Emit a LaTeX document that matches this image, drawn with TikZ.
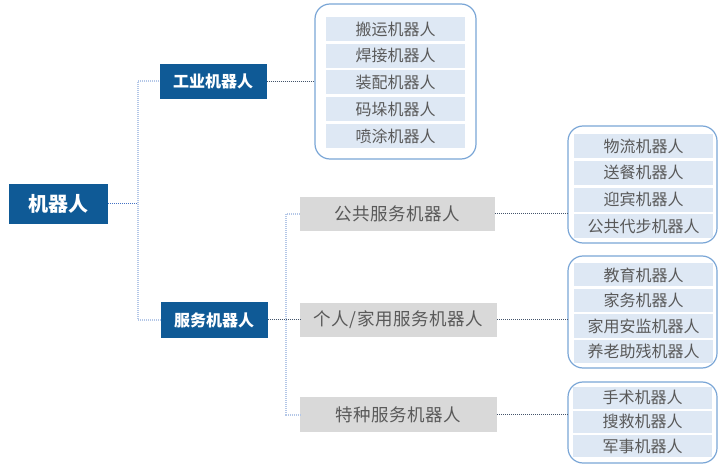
\documentclass[tikz,border=0pt]{standalone}
\usepackage{fontspec}
\setmainfont{Noto Sans CJK SC}
\usepackage{xcolor}
\definecolor{robot-blue}{HTML}{0F5A96}
\definecolor{sub-gray}{HTML}{D9D9D9}
\definecolor{item-blue}{HTML}{DEE8F4}
\definecolor{list-line}{HTML}{7AA6D6}
\definecolor{text-gray}{HTML}{595959}
\definecolor{link-gray}{HTML}{44546A}
\definecolor{root-line}{HTML}{4472C4}
\definecolor{bus-blue}{HTML}{B4C7E7}
\tikzset{
    root-box/.style = {fill=robot-blue, text=white, font=\fontsize{20}{24}\selectfont\bfseries, minimum width=99pt, minimum height=40pt, inner sep=0pt},
    main-box/.style = {fill=robot-blue, text=white, font=\fontsize{16}{20}\selectfont\bfseries, minimum width=107pt, minimum height=35pt, inner sep=0pt},
    sub-box/.style = {fill=sub-gray, text=text-gray, font=\fontsize{17.5}{20}\selectfont\addfontfeature{LetterSpace=3}, minimum width=197pt, minimum height=34pt, inner sep=0pt},
    list-box/.style = {draw=list-line, line width=1.2pt, rounded corners=15pt, minimum width=149pt, inner sep=0pt},
    list-item/.style = {fill=item-blue, text=text-gray, font=\fontsize{16}{18}\selectfont, minimum width=139pt, minimum height=24pt, inner sep=0pt},
    link/.style = {draw=link-gray, line width=1pt, dash pattern=on 1pt off 1pt},
    root-link/.style = {draw=root-line, line width=1pt, dash pattern=on 1pt off 1pt},
    bus/.style = {draw=bus-blue, line width=2pt, dash pattern=on 1pt off 1pt},
}

\begin{document}
\begin{tikzpicture}[x=1pt, y=-1pt]
\useasboundingbox (0,0) rectangle (724,468);

% left part
\node[root-box] (root) at (58.5,204) {机器人};
\node[main-box] (ind) at (213,81.5) {工业机器人};
\node[main-box] (srv) at (214,320) {服务机器人};
\coordinate (bus1) at (138,204);

% service robots
\node[sub-box, minimum width=195pt] (pub) at (397.5,214) {公共服务机器人};
\node[sub-box] (home) at (398.5,320) {个人/家用服务机器人};
\node[sub-box, minimum height=35pt] (spec) at (398.5,414.5) {特种服务机器人};
\coordinate (bus2) at (286,320);

% lists
\node[list-box, minimum width=161pt, minimum height=155pt] (list-ind) at (395.5,81.5) {};
\foreach \name [count=\i from 0] in {搬运机器人,焊接机器人,装配机器人,码垛机器人,喷涂机器人}
    \node[list-item] at (395.5,29+26.75*\i) {\name};

\node[list-box, minimum height=117pt] (list-pub) at (642.5,184.5) {};
\foreach \name [count=\i from 0] in {物流机器人,送餐机器人,迎宾机器人,公共代步机器人}
    \node[list-item] at (643.5,146+26.8*\i) {\name};

\node[list-box, minimum height=112pt] (list-home) at (642.5,312) {};
\foreach \name [count=\i from 0] in {教育机器人,家务机器人,家用安监机器人,养老助残机器人}
    \node[list-item, minimum height=23pt] at (643.5,275+25.5*\i) {\name};

\node[list-box, minimum height=81pt] (list-spec) at (642.5,422.5) {};
\foreach \name [count=\i from 0] in {手术机器人,搜救机器人,军事机器人}
    \node[list-item, minimum height=22pt] at (642.5,397.5+24.3*\i) {\name};

% connectors
\draw[bus] (ind.west) -| (bus1) |- (srv.west);
\draw[root-link] (root.east) -- (bus1);
\draw[link] (ind.east) -- (list-ind.west);
\draw[bus] (pub.west) -| (bus2) |- (spec.west);
\draw[link] (srv.east) -- (home.west);
\draw[link] (pub.east) -- (pub.east -| list-pub.west);
\draw[link] (home.east) -- (home.east -| list-home.west);
\draw[link] (spec.east) -- (spec.east -| list-spec.west);
\end{tikzpicture}
\end{document}
